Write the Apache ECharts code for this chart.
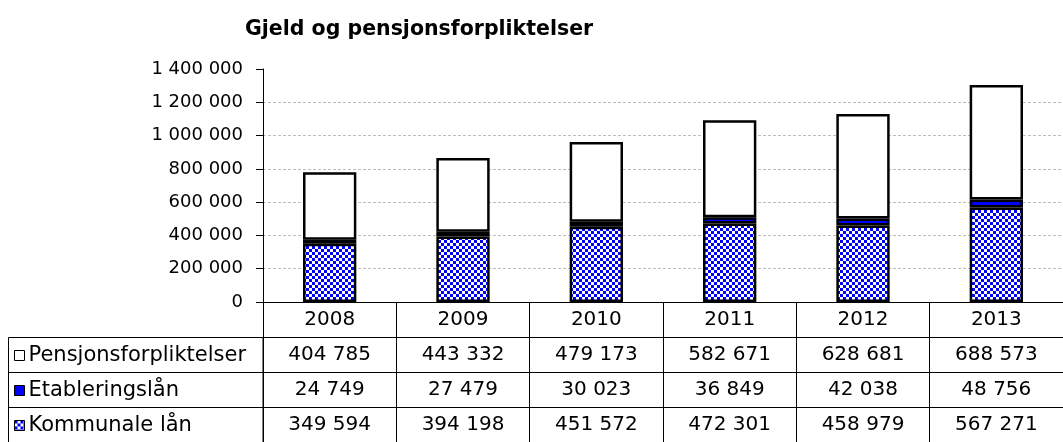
<!DOCTYPE html>
<html>
<head>
<meta charset="utf-8">
<title>Gjeld og pensjonsforpliktelser</title>
<script src="https://cdn.jsdelivr.net/npm/echarts@6/dist/echarts.min.js"></script>
<style>
  html, body { margin: 0; padding: 0; background: #fff; }
  #chart { width: 1063px; height: 442px; }
</style>
</head>
<body>
<div id="chart"></div>
<script>
// data
const years = ['2008', '2009', '2010', '2011', '2012', '2013'];
const pensjon = [404785, 443332, 479173, 582671, 628681, 688573];
const etablering = [24749, 27479, 30023, 36849, 42038, 48756];
const kommunale = [349594, 394198, 451572, 472301, 458979, 567271];
const seriesNames = ['Pensjonsforpliktelser', 'Etableringslån', 'Kommunale lån'];

const FONT = 'DejaVu Sans';

// thousands with a space, like the original
function fmt(v) {
  return String(v).replace(/\B(?=(\d{3})+(?!\d))/g, ' ');
}

// blue / white checker used for Kommunale lån
const tile = document.createElement('canvas');
tile.width = 6;
tile.height = 6;
const ctx = tile.getContext('2d');
ctx.fillStyle = '#ffffff';
ctx.fillRect(0, 0, 6, 6);
ctx.fillStyle = '#0000ff';
ctx.fillRect(0, 0, 3, 3);
ctx.fillRect(3, 3, 3, 3);
const checker = { image: tile, repeat: 'repeat' };

const chart = echarts.init(document.getElementById('chart'));

// one extra x axis per table row, the labels are the row values
const rowAxis = (offset, values) => ({
  type: 'category',
  data: years,
  position: 'bottom',
  offset: offset,
  axisLine: { show: true, lineStyle: { color: '#000', width: 1 } },
  axisTick: { show: false },
  axisLabel: {
    interval: 0,
    margin: 8,
    color: '#000',
    fontFamily: FONT,
    fontSize: 20,
    formatter: (v, i) => fmt(values[i])
  }
});

// one legend per table row so each name sits in its own cell
const rowLegend = (name, top) => ({
  data: [name],
  left: 14,
  top: top,
  padding: 0,
  itemWidth: 10,
  itemHeight: 10,
  itemGap: 5,
  selectedMode: false,
  icon: 'rect',
  itemStyle: { borderColor: '#000', borderWidth: 1 },
  textStyle: { fontFamily: FONT, fontSize: 21, color: '#000', padding: [0, 0, 0, -1] }
});

const barStyle = { borderColor: '#000', borderWidth: 2.5 };

const options = {
  animation: false,
  backgroundColor: '#fff',
  title: {
    text: 'Gjeld og pensjonsforpliktelser',
    left: 245,
    top: 19,
    padding: 0,
    textStyle: { fontFamily: FONT, fontSize: 20.5, fontWeight: 'bold', color: '#000' }
  },
  legend: [
    rowLegend(seriesNames[0], 345),
    rowLegend(seriesNames[1], 380),
    rowLegend(seriesNames[2], 415)
  ],
  grid: { left: 263, right: 0, top: 69, bottom: 140 },
  xAxis: [
    {
      type: 'category',
      data: years,
      position: 'bottom',
      axisLine: { show: true, lineStyle: { color: '#000', width: 1 } },
      axisTick: { show: true, length: 140, lineStyle: { color: '#000', width: 1 } },
      axisLabel: { interval: 0, margin: 8, color: '#000', fontFamily: FONT, fontSize: 20 }
    },
    rowAxis(35, pensjon),
    rowAxis(70, etablering),
    rowAxis(105, kommunale)
  ],
  yAxis: {
    type: 'value',
    min: 0,
    max: 1400000,
    interval: 200000,
    axisLine: { show: true, lineStyle: { color: '#000', width: 1 } },
    axisTick: { show: true, length: 7, lineStyle: { color: '#000' } },
    axisLabel: { margin: 20, color: '#000', fontFamily: FONT, fontSize: 18, formatter: fmt },
    splitLine: { show: true, showMaxLine: false, lineStyle: { color: '#bdbdbd', type: [3, 2], width: 1 } }
  },
  series: [
    {
      name: 'Kommunale lån',
      type: 'bar',
      stack: 'total',
      barWidth: '40%',
      data: kommunale,
      itemStyle: Object.assign({ color: checker }, barStyle)
    },
    {
      name: 'Etableringslån',
      type: 'bar',
      stack: 'total',
      data: etablering,
      itemStyle: Object.assign({ color: '#0000ff' }, barStyle)
    },
    {
      name: 'Pensjonsforpliktelser',
      type: 'bar',
      stack: 'total',
      data: pensjon,
      itemStyle: Object.assign({ color: '#ffffff' }, barStyle)
    }
  ],
  // borders of the row-name column on the left of the table
  graphic: [
    { type: 'rect', silent: true, shape: { x: 8.5, y: 337.5, width: 254.5, height: 120 },
      style: { fill: 'none', stroke: '#000', lineWidth: 1 } },
    { type: 'line', silent: true, shape: { x1: 8.5, y1: 372.5, x2: 263, y2: 372.5 },
      style: { stroke: '#000', lineWidth: 1 } },
    { type: 'line', silent: true, shape: { x1: 8.5, y1: 407.5, x2: 263, y2: 407.5 },
      style: { stroke: '#000', lineWidth: 1 } }
  ]
};

chart.setOption(options);
</script>
</body>
</html>
